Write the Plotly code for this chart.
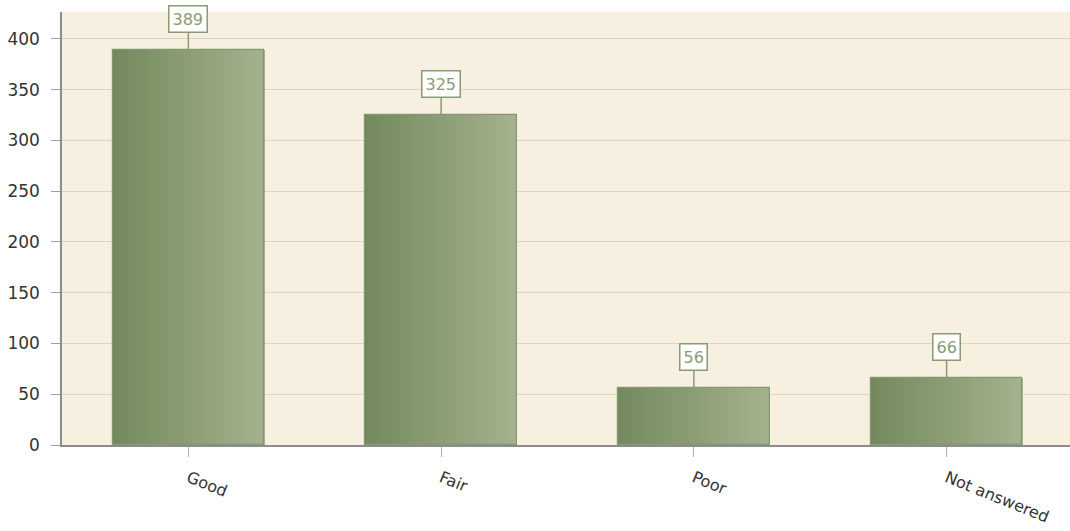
import plotly.graph_objects as go

categories = ["Good", "Fair", "Poor", "Not answered"]
values = [389, 325, 56, 66]
y_ticks = [0, 50, 100, 150, 200, 250, 300, 350, 400]

BAR_W = 0.6
N_SLICES = 30
left_rgb = (116, 138, 94)
right_rgb = (164, 177, 141)

fig = go.Figure()
sw = BAR_W / N_SLICES
for i in range(N_SLICES):
    t = i / (N_SLICES - 1)
    c = tuple(round(a + (b - a) * t) for a, b in zip(left_rgb, right_rgb))
    fig.add_trace(go.Bar(
        x=categories, y=values,
        width=sw * 1.08, offset=-BAR_W / 2 + i * sw,
        marker=dict(color="rgb(%d,%d,%d)" % c, line=dict(width=0)),
        hoverinfo="skip", showlegend=False,
    ))
# outline
fig.add_trace(go.Bar(
    x=categories, y=values, width=BAR_W, offset=-BAR_W / 2,
    marker=dict(color="rgba(0,0,0,0)", line=dict(color="#869873", width=1.2)),
    showlegend=False,
))

for c, v in zip(categories, values):
    fig.add_annotation(
        x=c, y=v, text=str(v), showarrow=True, arrowhead=0, arrowwidth=1.5,
        arrowcolor="#8a9b74", ax=0, ay=-31,
        bgcolor="white", bordercolor="#8a9b74", borderwidth=1.5, borderpad=3,
        font=dict(family="DejaVu Sans", size=16, color="#8a9b74"),
    )

fig.update_layout(
    width=1073, height=531, autosize=False,
    margin=dict(l=62, r=0, t=12, b=86),
    paper_bgcolor="white", plot_bgcolor="#f7efe0",
    barmode="overlay", bargap=0,
    font=dict(family="DejaVu Sans", size=16, color="#333333"),
)
fig.update_xaxes(
    type="category", tickangle=22, showgrid=False, automargin=False,
    showline=True, linecolor="#8c8c8c", linewidth=1.5,
    ticks="outside", ticklen=10, tickcolor="#b0b0b0",
    ticklabelstandoff=6,
    tickfont=dict(size=16, color="#333333"),
)
fig.update_yaxes(
    range=[0, 426.5], tickvals=y_ticks, showgrid=True, gridcolor="#ded6c3",
    showline=True, linecolor="#8c8c8c", linewidth=1.5, automargin=False,
    ticks="outside", ticklen=9, tickcolor="#a0a0a0",
    ticklabelstandoff=8,
    tickfont=dict(size=17, color="#333333"), zeroline=False,
)

fig.write_html(
    "out.html",
    config={"responsive": False, "displayModeBar": False},
    post_script="document.body.style.margin='0';document.body.style.overflow='hidden';",
)
